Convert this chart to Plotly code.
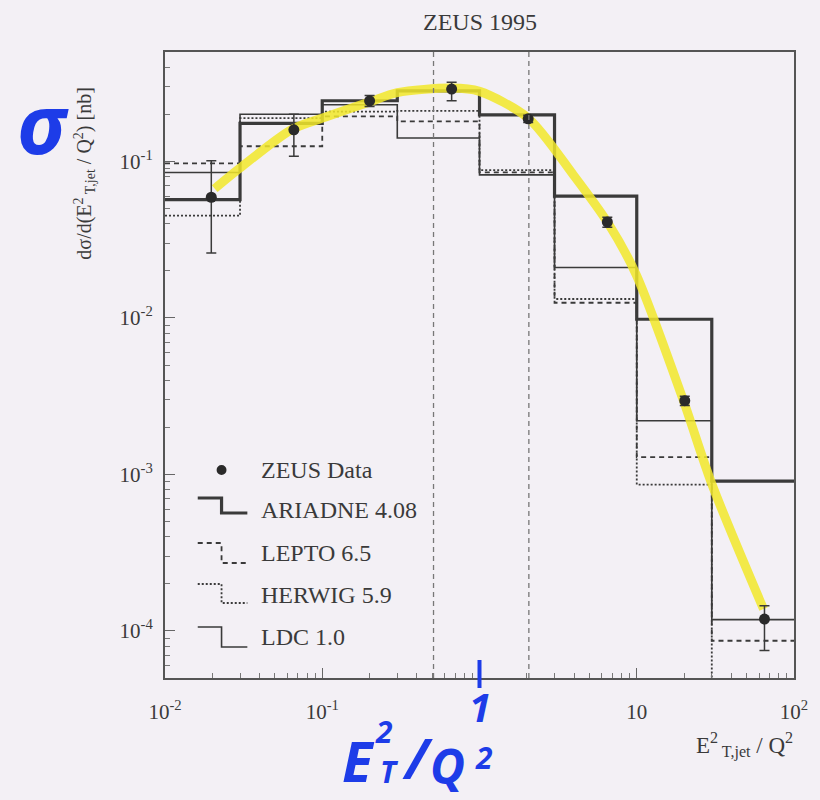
import plotly.graph_objects as go

# ---- data -------------------------------------------------------------
bin_edges = [0.01, 0.03, 0.1, 0.3, 1, 3, 10, 30, 100]

ariadne = [0.057, 0.175, 0.244, 0.282, 0.198, 0.060, 0.0098, 0.000905]
lepto = [0.097, 0.125, 0.194, 0.180, 0.085, 0.0125, 0.00129, 0.0000865]
herwig = [0.045, 0.189, 0.208, 0.210, 0.088, 0.0132, 0.00086, 0.00004]
ldc = [0.085, 0.200, 0.230, 0.141, 0.082, 0.021, 0.0022, 0.000118]

data_x = [0.0197, 0.066, 0.20, 0.665, 2.04, 6.5, 20.2, 64.9]
data_y = [0.059, 0.159, 0.244, 0.290, 0.187, 0.041, 0.00296, 0.000119]
err_up = [0.042, 0.041, 0.020, 0.030, 0.010, 0.003, 0.00020, 0.000026]
err_down = [0.033, 0.051, 0.020, 0.046, 0.010, 0.003, 0.00020, 0.000044]

curve_x = [0.0207, 0.0297, 0.064, 0.105, 0.20, 0.30, 0.66, 1.0, 2.04,
           3.95, 6.6, 9.9, 19.5, 30.0, 64.0]
curve_y = [0.067, 0.090, 0.160, 0.192, 0.240, 0.275, 0.294, 0.280, 0.189,
           0.082, 0.040, 0.019, 0.0031, 0.00087, 0.000138]

cut_lines = [0.51, 2.06]

x_ticks = [0.01, 0.1, 10, 100]
x_tick_text = ["10<sup>-2</sup>", "10<sup>-1</sup>", "10", "10<sup>2</sup>"]
y_ticks = [1e-4, 1e-3, 1e-2, 1e-1]
y_tick_text = ["10<sup>-4</sup>", "10<sup>-3</sup>", "10<sup>-2</sup>", "10<sup>-1</sup>"]

# ---- styling ------------------------------------------------------------
BG = "#f3f0f5"
INK = "#3a3a3a"
BLUE = "#1d3ce8"
SERIF = "Liberation Serif, Times New Roman, serif"
HAND = "Noto Sans, DejaVu Sans, sans-serif"

W, H = 820, 800
L, R, T, B = 165, 799, 52, 678


def px(x):
    return (x - L) / (R - L)


def py(y):
    return (B - y) / (B - T)


def steps(vals):
    return bin_edges, vals + [vals[-1]]


def note(text, x, y, size, color=INK, family=SERIF, xanchor="center", **kw):
    return dict(xref="paper", yref="paper", x=px(x), y=py(y), text=text,
                showarrow=False, xanchor=xanchor, yanchor="middle",
                font=dict(family=family, size=size, color=color), **kw)


fig = go.Figure()

models = [
    (ariadne, 3.2, "solid"),
    (lepto, 1.8, "5px,4px"),
    (herwig, 1.8, "2px,2px"),
    (ldc, 1.6, "solid"),
]
for vals, width, dash in models:
    xs, ys = steps(vals)
    fig.add_trace(go.Scatter(
        x=xs, y=ys, mode="lines", line_shape="hv",
        line=dict(color=INK, width=width, dash=dash),
        showlegend=False, hoverinfo="skip",
    ))

# hand-highlighted trend through the measurements
fig.add_trace(go.Scatter(
    x=curve_x, y=curve_y, mode="lines",
    line=dict(color="#f2e82a", width=9, shape="spline", smoothing=0.8),
    opacity=0.85, showlegend=False, hoverinfo="skip",
))

fig.add_trace(go.Scatter(
    x=data_x, y=data_y, mode="markers",
    marker=dict(color="#2a2a2a", size=11),
    error_y=dict(type="data", array=err_up, arrayminus=err_down,
                 color=INK, thickness=1.5, width=5),
    showlegend=False,
))

shapes = []
for xc in cut_lines:
    shapes.append(dict(type="line", xref="x", yref="paper", x0=xc, x1=xc,
                       y0=0, y1=1, line=dict(color="#777", width=1.3, dash="5px,4px")))

# legend drawn inside the frame
legend_rows = [
    ("ARIADNE 4.08", 498, 513, 3.2, "solid", 510),
    ("LEPTO 6.5", 543, 563, 1.8, "5px,4px", 553),
    ("HERWIG 5.9", 584, 603, 1.8, "2px,2px", 595),
    ("LDC 1.0", 627, 647, 1.6, "solid", 637),
]
annotations = []
shapes.append(dict(type="circle", xref="paper", yref="paper",
                   x0=px(217), x1=px(227), y0=py(475), y1=py(465),
                   fillcolor="#2a2a2a", line=dict(width=0)))
annotations.append(note("ZEUS Data", 260, 470, 24, xanchor="left"))
for label, ytop, ybot, lw, dash, ytxt in legend_rows:
    path = (f"M {px(198)},{py(ytop)} L {px(222)},{py(ytop)} "
            f"L {px(222)},{py(ybot)} L {px(248)},{py(ybot)}")
    shapes.append(dict(type="path", xref="paper", yref="paper", path=path,
                       line=dict(color=INK, width=lw, dash=dash)))
    annotations.append(note(label, 260, ytxt, 24, xanchor="left"))

# titles
annotations.append(note("ZEUS 1995", 482, 22, 24))
annotations.append(note("dσ/d(E<sup>2</sup><sub> T,jet</sub> / Q<sup>2</sup>) [nb]",
                        84, 174, 20, textangle=-90))
annotations.append(note("E<sup>2</sup><sub> T,jet</sub> / Q<sup>2</sup>",
                        800, 745, 23, xanchor="right"))

# blue handwritten notes
shapes.append(dict(type="line", xref="x", yref="paper", x0=1, x1=1,
                   y0=py(660), y1=py(688), line=dict(color=BLUE, width=4)))
hand = [
    ("σ", 42, 122, 82),
    ("1", 482, 706, 40),
    ("E", 360, 760, 56),
    ("2", 386, 731, 30),
    ("T", 391, 771, 30),
    ("/", 420, 757, 56),
    ("Q", 450, 765, 48),
    ("2", 487, 757, 30),
]
for txt, xp, yp, size in hand:
    annotations.append(note(f"<b><i>{txt}</i></b>", xp, yp, size,
                            color=BLUE, family=HAND))

minor_vals = [m * 10 ** e for e in range(-5, 3) for m in range(2, 10)]

axis_common = dict(
    type="log", showgrid=False, zeroline=False,
    showline=True, linecolor="#555", linewidth=2, mirror=True,
    ticks="inside", ticklen=10, tickwidth=1.2, tickcolor="#666",
    tickfont=dict(family=SERIF, size=21, color=INK),
    minor=dict(ticks="inside", ticklen=5, tickwidth=1, tickcolor="#777",
               tickvals=minor_vals, showgrid=False),
)

fig.update_xaxes(range=[-2, 2], tickvals=x_ticks, ticktext=x_tick_text,
                 ticklabelstandoff=14, **axis_common)
fig.update_yaxes(range=[-4.301, -0.301], tickvals=y_ticks, ticktext=y_tick_text,
                 ticklabelstandoff=6, **axis_common)

fig.update_layout(
    width=W, height=H,
    margin=dict(l=L, r=W - R, t=T, b=H - B),
    paper_bgcolor=BG, plot_bgcolor=BG,
    shapes=shapes, annotations=annotations,
    showlegend=False,
)

fig.write_html("out.html")
